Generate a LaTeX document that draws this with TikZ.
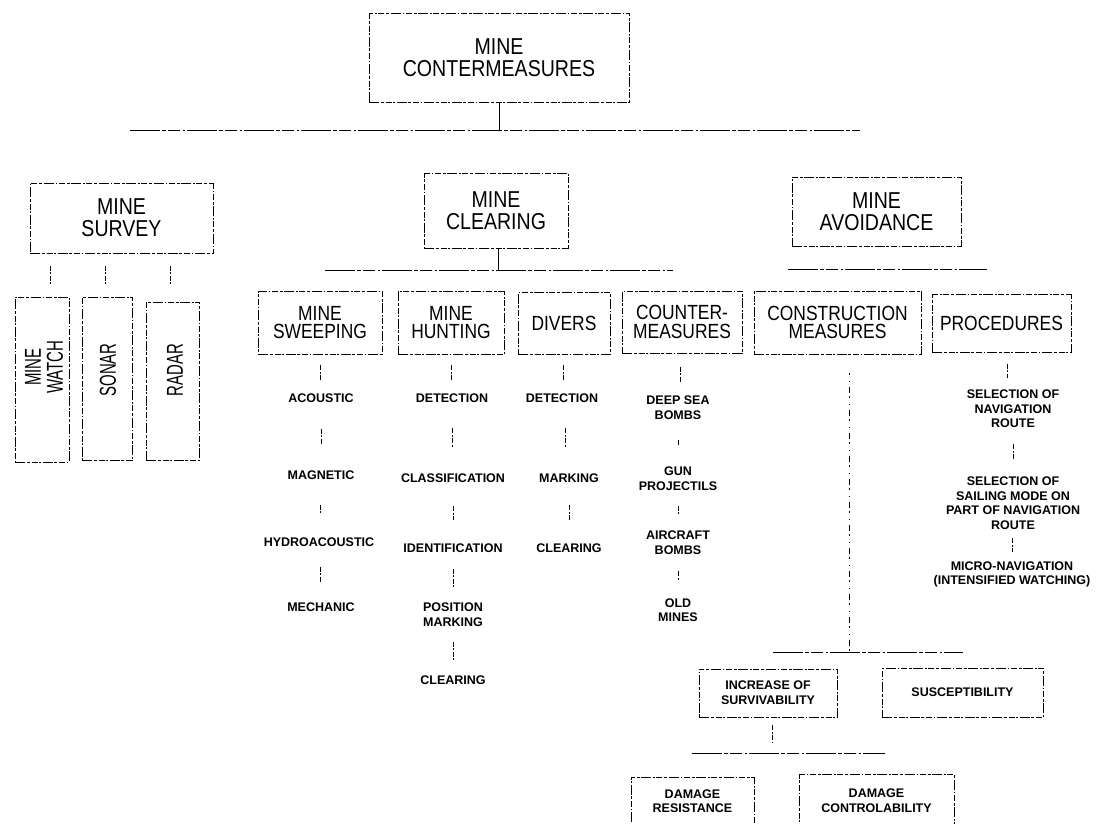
\documentclass[tikz,border=0pt]{standalone}
\usepackage{fontspec}
\setmainfont{Liberation Sans}
\newfontfamily\bigf[FakeStretch=0.85]{Liberation Sans}
\newfontfamily\rotf[FakeStretch=0.65]{Liberation Sans}
\usetikzlibrary{calc}
\tikzset{
  sketch/.style={line width=0.8pt, dash pattern=on 10pt off 1.5pt on 3pt off 2pt on 6pt off 1.5pt on 1.5pt off 2pt},
  box/.style={draw, sketch, inner sep=0pt, align=center},
  bigtxt/.style={font=\bigf\fontsize{23}{22}\selectfont},
  midtxt/.style={font=\bigf\fontsize{20.5}{18.5}\selectfont},
  lowtxt/.style={font=\bfseries\fontsize{12.5}{15}\selectfont},
  rottxt/.style={font=\rotf\fontsize{23}{22}\selectfont, rotate=90, align=center, inner sep=0pt},
  item/.style={font=\bfseries\fontsize{12.5}{14.5}\selectfont, align=center, inner sep=1pt},
  link/.style={line width=0.8pt, dash pattern=on 5pt off 1.5pt on 2pt off 1.5pt},
  rule/.style={line width=0.8pt, dash pattern=on 30pt off 2pt on 4pt off 2pt on 12pt off 3pt on 2pt off 2pt},
  solidlink/.style={line width=0.8pt},
  dotline/.style={line width=0.8pt, dash pattern=on 2pt off 6pt on 1pt off 5pt on 6pt off 3pt}
}
\newcommand\conn[3][8]{\draw[link] ($(#2.south)!.5!(#3.north)+(0,-#1)$) -- ($(#2.south)!.5!(#3.north)+(0,#1)$);}
\begin{document}
\begin{tikzpicture}[x=1pt,y=-1pt]
\useasboundingbox (0,0) rectangle (1105,823);
\clip (0,0) rectangle (1105,823);
\fill[white] (0,0) rectangle (1105,823);

% top level
\node[box,bigtxt,minimum width=260pt,minimum height=89pt] (top) at (499,57.5) {MINE\\CONTERMEASURES};
\coordinate (rL) at (130,130);
\coordinate (rR) at (860,130);
\draw[solidlink] (top.south) -- (top.south |- rL);
\draw[rule] (rL) -- (rR);

\node[box,bigtxt,minimum width=183pt,minimum height=70pt] (survey) at (121.5,218) {MINE\\SURVEY};
\node[box,bigtxt,minimum width=144pt,minimum height=75pt] (clearing) at (496,210.5) {MINE\\CLEARING};
\node[box,bigtxt,minimum width=169pt,minimum height=69pt] (avoid) at (876.5,211.5) {MINE\\AVOIDANCE};

% survey children
\node[box,minimum width=54pt,minimum height=165pt] (watch) at (42,379.5) {};
\node[rottxt] (watchT) at (44,367) {MINE\\WATCH};
\node[box,minimum width=50pt,minimum height=163pt] (sonar) at (107,378.5) {};
\node[rottxt] (sonarT) at (108,370) {SONAR};
\node[box,minimum width=53pt,minimum height=158pt] (radar) at (172.5,381) {};
\node[rottxt] (radarT) at (175,370) {RADAR};
\draw[link] ($(watch.north)+(8,-31)$) -- ($(watch.north)+(8,-12)$);
\draw[link] ($(sonar.north)+(-2,-31)$) -- ($(sonar.north)+(-2,-12)$);
\draw[link] ($(radar.north)+(-2.5,-36)$) -- ($(radar.north)+(-2.5,-17)$);

% clearing branch
\coordinate (cL) at (325,270);
\coordinate (cR) at (673,270);
\draw[solidlink] ([xshift=2pt]clearing.south) -- ([xshift=2pt]clearing.south |- cL);
\draw[rule] (cL) -- (cR);

\node[box,midtxt,minimum width=124pt,minimum height=63pt] (sweep) at (320,322.5) {MINE\\SWEEPING};
\node[box,midtxt,minimum width=106pt,minimum height=63pt] (hunt) at (451,322.5) {MINE\\HUNTING};
\node[box,midtxt,minimum width=92pt,minimum height=62pt] (divers) at (564,323) {DIVERS};
\node[box,midtxt,minimum width=120pt,minimum height=62pt] (counter) at (682,322) {COUNTER-\\MEASURES};

% avoidance branch
\coordinate (aL) at (788,269);
\coordinate (aR) at (987,269);
\draw[rule] (aL) -- (aR);
\node[box,midtxt,minimum width=167pt,minimum height=63pt] (constr) at (837.5,322.5) {CONSTRUCTION\\MEASURES};
\node[box,midtxt,minimum width=139pt,minimum height=58pt] (proc) at (1001.5,323) {PROCEDURES};

% sweeping column
\node[item] (acou) at (321,398) {ACOUSTIC};
\node[item] (magn) at (321,475) {MAGNETIC};
\node[item] (hydro) at (319,542) {HYDROACOUSTIC};
\node[item] (mech) at (321,607) {MECHANIC};
\conn{sweep}{acou}
\conn{acou}{magn}
\conn[4]{magn}{hydro}
\conn{hydro}{mech}

% hunting column
\node[item] (det1) at (452,398) {DETECTION};
\node[item] (class) at (453,478) {CLASSIFICATION};
\node[item] (ident) at (453,548) {IDENTIFICATION};
\node[item] (posm) at (453,614.5) {POSITION\\MARKING};
\node[item] (clr1) at (453,680) {CLEARING};
\conn{hunt}{det1}
\conn[10]{det1}{class}
\conn[7]{class}{ident}
\conn[9]{ident}{posm}
\conn[9]{posm}{clr1}

% divers column
\node[item] (det2) at (562,398) {DETECTION};
\node[item] (mark) at (569,478) {MARKING};
\node[item] (clr2) at (569,548) {CLEARING};
\conn{divers}{det2}
\conn[10]{det2}{mark}
\conn[8]{mark}{clr2}

% counter-measures column
\node[item] (deep) at (678,407.5) {DEEP SEA\\BOMBS};
\node[item] (gun) at (678,478.5) {GUN\\PROJECTILS};
\node[item] (air) at (678,542.5) {AIRCRAFT\\BOMBS};
\node[item] (old) at (678,610) {OLD\\MINES};
\conn[7.5]{counter}{deep}
\conn[3]{deep}{gun}
\conn[5]{gun}{air}
\conn[5]{air}{old}

% procedures column
\node[item] (sel1) at (1013,409) {SELECTION OF\\NAVIGATION\\ROUTE};
\node[item] (sel2) at (1013,503) {SELECTION OF\\SAILING MODE ON\\PART OF NAVIGATION\\ROUTE};
\node[item] (micro) at (1012,574.5) {MICRO-NAVIGATION\\(INTENSIFIED WATCHING)};
\conn[7]{proc}{sel1}
\conn[8]{sel1}{sel2}
\conn[7]{sel2}{micro}

% construction measures branch
\coordinate (kL) at (773,652);
\coordinate (kR) at (963,652);
\draw[dotline] ($(constr.south)+(11.5,19)$) -- ($(constr.south |- kL)+(11.5,0)$);
\draw[rule] (kL) -- (kR);
\node[box,lowtxt,minimum width=138pt,minimum height=48pt] (incr) at (768,693) {INCREASE OF\\SURVIVABILITY};
\node[box,lowtxt,minimum width=161pt,minimum height=49pt] (susc) at (962.5,692.5) {SUSCEPTIBILITY};

\coordinate (iL) at (692,753);
\coordinate (iR) at (885,753);
\draw[link] ($(incr.south)+(4,8)$) -- ($(incr.south)+(4,25)$);
\draw[rule] (iL) -- (iR);
\node[box,lowtxt,font=\bfseries\fontsize{12.5}{14}\selectfont,minimum width=123pt,minimum height=49pt] (dres) at (692.5,801.5) {DAMAGE\\RESISTANCE};
\node[box,lowtxt,font=\bfseries\fontsize{12.5}{15}\selectfont,minimum width=155pt,minimum height=53pt] (dcon) at (876.5,800.5) {DAMAGE\\CONTROLABILITY};
\end{tikzpicture}
\end{document}
